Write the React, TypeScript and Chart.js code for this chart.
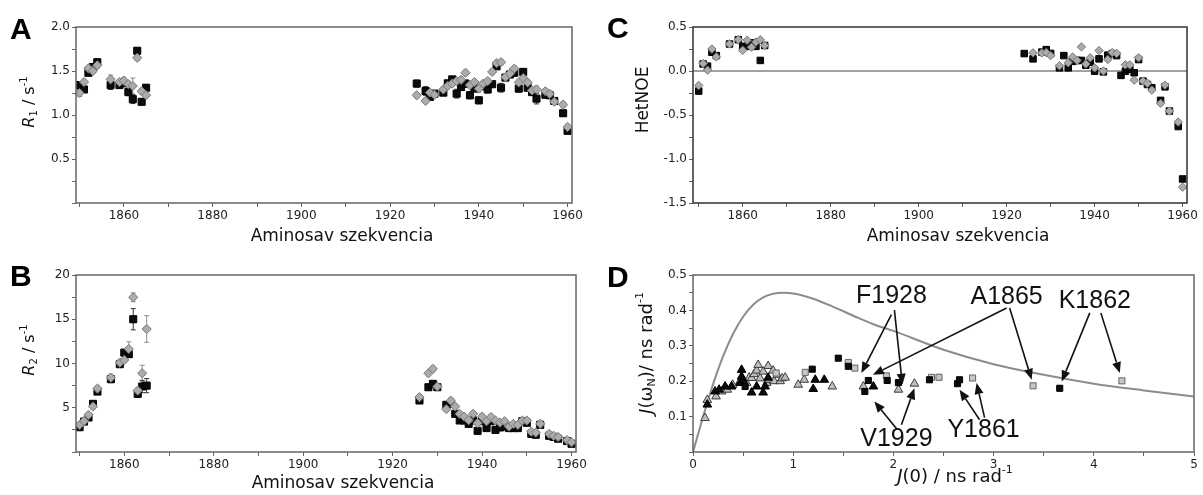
import React, { useEffect, useRef } from 'react';
import { Chart, registerables } from 'chart.js';

Chart.register(...registerables);

const FONT = 'DejaVu Sans';
const LABEL_FONT = 'Liberation Sans';

// ---------- Panels A & B : residues ----------
const RESIDUES = [1850, 1851, 1852, 1853, 1854, 1857, 1859, 1860, 1861, 1862, 1863, 1864, 1865,
  1926, 1928, 1929, 1930,
  1932, 1933, 1934, 1935, 1936, 1937, 1938, 1939, 1940, 1941, 1942, 1943, 1944, 1945, 1946, 1947, 1948, 1949, 1950, 1951, 1952, 1953,
  1955, 1956, 1957, 1959, 1960];

const R1_BLACK = [1.34, 1.29, 1.48, 1.545, 1.60, 1.34, 1.34, 1.36, 1.26, 1.18, 1.73, 1.15, 1.31,
  1.357, 1.273, 1.205, 1.243,
  1.254, 1.36, 1.405, 1.243, 1.318, 1.357, 1.224, 1.30, 1.167, 1.326, 1.29, 1.35, 1.553, 1.31, 1.425, 1.46, 1.48, 1.30, 1.49, 1.31, 1.26, 1.186,
  1.23, 1.224, 1.16, 1.02, 0.82];
const R1_GRAY = [1.25, 1.375, 1.53, 1.50, 1.565, 1.405, 1.375, 1.39, 1.35, 1.33, 1.65, 1.27, 1.225,
  1.224, 1.16, 1.254, 1.23,
  1.29, 1.33, 1.357, 1.386, 1.40, 1.48, 1.34, 1.375, 1.30, 1.357, 1.386, 1.49, 1.59, 1.60, 1.43, 1.47, 1.527, 1.37, 1.42, 1.37, 1.28, 1.29,
  1.27, 1.24, 1.15, 1.118, 0.864];
const R1_BLACK_ERR = [0.04, 0.03, 0.03, 0.03, 0.03, 0.05, 0.03, 0.03, 0.04, 0.05, 0.03, 0.03, 0.03,
  0.04, 0.05, 0.03, 0.03,
  0.03, 0.03, 0.03, 0.05, 0.04, 0.04, 0.04, 0.03, 0.04, 0.03, 0.04, 0.03, 0.03, 0.05, 0.03, 0.03, 0.03, 0.04, 0.03, 0.03, 0.03, 0.06,
  0.03, 0.03, 0.03, 0.03, 0.03];
const R1_GRAY_ERR = [0.04, 0.03, 0.03, 0.03, 0.03, 0.05, 0.03, 0.04, 0.03, 0.09, 0.03, 0.03, 0.03,
  0.03, 0.03, 0.03, 0.03,
  0.03, 0.03, 0.03, 0.03, 0.03, 0.03, 0.03, 0.03, 0.04, 0.03, 0.03, 0.03, 0.03, 0.03, 0.03, 0.03, 0.03, 0.03, 0.03, 0.03, 0.03, 0.04,
  0.03, 0.03, 0.03, 0.03, 0.03];

const R2_BLACK = [2.8, 3.44, 3.9, 5.44, 6.83, 8.23, 9.92, 11.23, 11.05, 15.0, 6.57, 7.4, 7.5,
  5.82, 7.32, 7.7, 7.32,
  5.33, 5.44, 4.31, 3.56, 3.56, 3.18, 3.56, 2.39, 3.48, 2.7, 3.48, 2.5, 2.77, 2.88, 2.7, 2.7, 2.7, 3.48, 3.3, 2.05, 1.95, 3.07,
  1.83, 1.7, 1.5, 1.24, 0.93];
const R2_GRAY = [3.07, 3.5, 4.2, 5.14, 7.17, 8.4, 10.1, 10.4, 11.65, 17.48, 6.94, 8.9, 13.9,
  6.2, 8.9, 9.39, 7.4,
  4.84, 5.8, 5.14, 4.31, 4.0, 3.6, 4.31, 3.26, 4.0, 3.48, 3.95, 3.56, 3.33, 3.48, 2.88, 3.18, 3.07, 3.56, 3.56, 2.3, 2.2, 3.18,
  2.05, 1.83, 1.7, 1.35, 1.1];
const R2_BLACK_ERR = [0.2, 0.2, 0.2, 0.3, 0.3, 0.4, 0.3, 0.3, 0.3, 1.2, 0.3, 0.7, 0.8,
  0.3, 0.2, 0.2, 0.2,
  0.3, 0.3, 0.2, 0.2, 0.2, 0.2, 0.2, 0.2, 0.3, 0.2, 0.2, 0.2, 0.2, 0.2, 0.2, 0.2, 0.2, 0.2, 0.2, 0.2, 0.2, 0.3,
  0.2, 0.2, 0.2, 0.2, 0.2];
const R2_GRAY_ERR = [0.2, 0.2, 0.2, 0.3, 0.3, 0.4, 0.3, 0.3, 0.8, 0.5, 0.3, 0.9, 1.5,
  0.3, 0.3, 0.3, 0.2,
  0.2, 0.3, 0.2, 0.2, 0.2, 0.3, 0.3, 0.2, 0.3, 0.2, 0.3, 0.2, 0.2, 0.2, 0.2, 0.2, 0.2, 0.2, 0.2, 0.2, 0.2, 0.3,
  0.2, 0.2, 0.2, 0.2, 0.2];

// ---------- Panel C : HetNOE ----------
const RESIDUES_C = [1850, 1851, 1852, 1853, 1854, 1857, 1859, 1860, 1861, 1862, 1863, 1864, 1865,
  1924, 1926, 1928, 1929, 1930,
  1932, 1933, 1934, 1935, 1936, 1937, 1938, 1939, 1940, 1941, 1942, 1943, 1944, 1945, 1946, 1947, 1948, 1949, 1950, 1951, 1952, 1953,
  1955, 1956, 1957, 1959, 1960];
const NOE_BLACK = [-0.228, 0.08, 0.055, 0.213, 0.175, 0.307, 0.356, 0.28, 0.28, 0.32, 0.28, 0.12, 0.29,
  0.198, 0.138, 0.215, 0.243, 0.2,
  0.036, 0.175, 0.036, 0.11, 0.12, 0.12, 0.066, 0.1, -0.002, 0.138, -0.01, 0.18, 0.198, 0.175, -0.05, -0.002, 0.02, -0.02, 0.13, -0.115, -0.153, -0.19,
  -0.334, -0.18, -0.455, -0.631, -1.227];
const NOE_GRAY = [-0.164, 0.085, 0.01, 0.25, 0.16, 0.307, 0.356, 0.235, 0.35, 0.27, 0.33, 0.355, 0.29,
  null, 0.206, 0.205, 0.21, 0.175,
  0.06, null, 0.093, 0.16, 0.12, 0.274, 0.08, 0.15, 0.036, 0.232, 0, 0.13, 0.21, 0.2, null, 0.07, 0.07, -0.104, 0.15, -0.115, -0.14, -0.217,
  -0.368, -0.16, -0.455, -0.58, -1.32];

// ---------- Panel D : spectral density ----------
const D_GRAY_TRI_X = [0.12, 0.143, 0.23, 0.286, 0.342, 0.395, 0.47, 0.535, 0.56, 0.585, 0.61, 0.635, 0.65, 0.67, 0.7, 0.735, 0.75, 0.75, 0.8, 0.81, 0.84, 0.87, 0.89, 0.92, 1.05, 1.11, 1.39, 1.70, 2.05, 2.21];
const D_GRAY_TRI_Y = [0.096, 0.147, 0.157, 0.171, 0.176, 0.19, 0.2, 0.195, 0.21, 0.209, 0.22, 0.23, 0.246, 0.208, 0.227, 0.195, 0.243, 0.204, 0.23, 0.2, 0.218, 0.2, 0.208, 0.21, 0.19, 0.204, 0.185, 0.185, 0.176, 0.193];
const D_BLACK_TRI_X = [0.143, 0.22, 0.26, 0.32, 0.385, 0.47, 0.485, 0.485, 0.5, 0.585, 0.635, 0.7, 0.72, 0.75, 1.2, 1.22, 1.31, 1.8];
const D_BLACK_TRI_Y = [0.134, 0.171, 0.176, 0.185, 0.185, 0.195, 0.213, 0.232, 0.204, 0.168, 0.185, 0.168, 0.185, 0.21, 0.178, 0.204, 0.204, 0.185];
const D_BLACK_SQ_X = [0.52, 1.19, 1.45, 1.55, 1.715, 1.75, 1.938, 2.05, 2.36, 2.64, 2.66, 3.66];
const D_BLACK_SQ_Y = [0.185, 0.234, 0.265, 0.242, 0.171, 0.202, 0.202, 0.196, 0.204, 0.193, 0.204, 0.18];
const D_GRAY_SQ_X = [0.83, 1.12, 1.55, 1.615, 1.93, 2.38, 2.455, 2.79, 3.394, 4.28];
const D_GRAY_SQ_Y = [0.223, 0.225, 0.253, 0.237, 0.215, 0.211, 0.211, 0.209, 0.187, 0.201];
const CURVE_X = [0, 0.1, 0.2, 0.3, 0.4, 0.5, 0.6, 0.7, 0.8, 0.9, 1.0, 1.2, 1.4, 1.6, 1.8, 2.0, 2.5, 3.0, 3.5, 4.0, 4.5, 5.0];
const CURVE_Y = [0, 0.099, 0.191, 0.27, 0.334, 0.382, 0.416, 0.437, 0.447, 0.45, 0.448, 0.433, 0.41, 0.385, 0.361, 0.342, 0.289, 0.248, 0.218, 0.193, 0.174, 0.157];

const D_LABELS = ['F1928', 'A1865', 'K1862', 'V1929', 'Y1861'];
const D_LABEL_AT = [[1.98, 0.439], [3.13, 0.438], [4.01, 0.427], [2.03, 0.036], [2.9, 0.063]];
const D_ARROWS = [
  [1.98, 0.388, 1.68, 0.223], [2.01, 0.401, 2.09, 0.19],
  [3.13, 0.407, 1.795, 0.218], [3.16, 0.407, 3.38, 0.204],
  [2.04, 0.063, 1.81, 0.143], [2.08, 0.077, 2.21, 0.18],
  [2.86, 0.091, 2.66, 0.176], [2.91, 0.097, 2.83, 0.195],
  [3.96, 0.393, 3.68, 0.199], [4.07, 0.393, 4.26, 0.223],
];

// ---------- ticks ----------
const RES_TICKS = [1850, 1860, 1870, 1880, 1890, 1900, 1910, 1920, 1930, 1940, 1950, 1960];
const RES_TICK_LABELS = ['', '1860', '', '1880', '', '1900', '', '1920', '', '1940', '', '1960'];
const R1_TICKS = [0, 0.25, 0.5, 0.75, 1.0, 1.25, 1.5, 1.75, 2.0];
const R1_TICK_LABELS = ['', '', '0.5', '', '1.0', '', '1.5', '', '2.0'];
const R2_TICKS = [0, 2.5, 5, 7.5, 10, 12.5, 15, 17.5, 20];
const R2_TICK_LABELS = ['', '', '5', '', '10', '', '15', '', '20'];
const NOE_TICKS = [-1.5, -1.25, -1.0, -0.75, -0.5, -0.25, 0, 0.25, 0.5];
const NOE_TICK_LABELS = ['-1.5', '', '-1.0', '', '-0.5', '', '0.0', '', '0.5'];
const J0_TICKS = [0, 0.5, 1, 1.5, 2, 2.5, 3, 3.5, 4, 4.5, 5];
const J0_TICK_LABELS = ['0', '', '1', '', '2', '', '3', '', '4', '', '5'];
const JN_TICKS = [0, 0.05, 0.1, 0.15, 0.2, 0.25, 0.3, 0.35, 0.4, 0.45, 0.5];
const JN_TICK_LABELS = ['', '', '0.1', '', '0.2', '', '0.3', '', '0.4', '', '0.5'];

// ---------- helpers ----------
function pts(xs: number[], ys: (number | null)[], es?: number[]) {
  const out: any[] = [];
  xs.forEach((x, i) => {
    const y = ys[i];
    if (y !== null && y !== undefined) out.push({ x, y, e: es ? es[i] : undefined });
  });
  return out;
}

function axis(min: number, max: number, ticks: number[], labels: string[], size: number, pos: string) {
  return {
    type: 'linear', position: pos, min, max, bounds: 'data',
    border: { display: false },
    grid: { display: true, drawOnChartArea: false, drawTicks: true, tickLength: 4, color: '#666', lineWidth: 1 },
    ticks: {
      autoSkip: false, maxRotation: 0, minRotation: 0, padding: 2, color: '#222',
      font: { family: FONT, size: 12 },
      callback: (_v: any, i: number) => labels[i] ?? '',
    },
    afterBuildTicks: (s: any) => { s.ticks = ticks.map((value) => ({ value })); },
    afterFit: (s: any) => { if (pos === 'bottom') s.height = size; else s.width = size; },
  };
}

function blackSq(data: any[], r = 5) {
  return { data, pointStyle: 'rect', pointRadius: r, backgroundColor: '#0b0b0b', borderColor: '#000', pointBackgroundColor: '#0b0b0b', pointBorderColor: '#000', borderWidth: 1, showLine: false, errColor: '#333' };
}
function grayDia(data: any[], r = 4.6) {
  return { data, pointStyle: 'rectRot', pointRadius: r, backgroundColor: '#ababab', borderColor: '#7a7a7a', pointBackgroundColor: '#ababab', pointBorderColor: '#7a7a7a', borderWidth: 1, showLine: false, errColor: '#8c8c8c' };
}

function drawRich(ctx: CanvasRenderingContext2D, parts: any[], cx: number, cy: number, rotate: boolean) {
  ctx.save();
  ctx.translate(cx, cy);
  if (rotate) ctx.rotate(-Math.PI / 2);
  let total = 0;
  for (const p of parts) { ctx.font = p.font; total += ctx.measureText(p.t).width; }
  let x = -total / 2;
  ctx.textBaseline = 'middle';
  ctx.textAlign = 'left';
  ctx.fillStyle = '#111';
  for (const p of parts) {
    ctx.font = p.font;
    ctx.fillText(p.t, x, p.dy || 0);
    x += ctx.measureText(p.t).width;
  }
  ctx.restore();
}

function panelLetter(ctx: CanvasRenderingContext2D, letter: string, x: number, y: number) {
  ctx.save();
  ctx.font = `bold 30px ${LABEL_FONT}`;
  ctx.fillStyle = '#000';
  ctx.textBaseline = 'alphabetic';
  ctx.textAlign = 'left';
  ctx.fillText(letter, x, y);
  ctx.restore();
}

function errorBars(chart: any) {
  const ctx = chart.ctx;
  const ys = chart.scales.y;
  chart.data.datasets.forEach((ds: any, di: number) => {
    const meta = chart.getDatasetMeta(di);
    ds.data.forEach((p: any, i: number) => {
      if (p.e === undefined || p.e === null) return;
      const el = meta.data[i];
      if (!el) return;
      const x = el.x;
      const t = ys.getPixelForValue(p.y + p.e);
      const b = ys.getPixelForValue(p.y - p.e);
      ctx.save();
      ctx.strokeStyle = ds.errColor || '#333';
      ctx.lineWidth = 1;
      ctx.beginPath();
      ctx.moveTo(x, t); ctx.lineTo(x, b);
      ctx.moveTo(x - 2.5, t); ctx.lineTo(x + 2.5, t);
      ctx.moveTo(x - 2.5, b); ctx.lineTo(x + 2.5, b);
      ctx.stroke();
      ctx.restore();
    });
  });
}

function frame(chart: any, color = '#666') {
  const { ctx, chartArea: a } = chart;
  ctx.save();
  ctx.strokeStyle = color;
  ctx.lineWidth = 1.5;
  ctx.strokeRect(a.left, a.top, a.right - a.left, a.bottom - a.top);
  ctx.restore();
}

function arrow(ctx: CanvasRenderingContext2D, x1: number, y1: number, x2: number, y2: number) {
  const ang = Math.atan2(y2 - y1, x2 - x1);
  const hl = 11, hw = 4.5;
  const bx = x2 - hl * Math.cos(ang), by = y2 - hl * Math.sin(ang);
  ctx.beginPath();
  ctx.moveTo(x1, y1);
  ctx.lineTo(bx, by);
  ctx.stroke();
  ctx.beginPath();
  ctx.moveTo(x2, y2);
  ctx.lineTo(bx + hw * Math.sin(ang), by - hw * Math.cos(ang));
  ctx.lineTo(bx - hw * Math.sin(ang), by + hw * Math.cos(ang));
  ctx.closePath();
  ctx.fill();
}

function deco(before: ((c: any) => void) | null, after: (c: any) => void, frameColor = '#666') {
  return {
    id: 'deco',
    beforeDatasetsDraw(chart: any) { errorBars(chart); if (before) before(chart); },
    afterDraw(chart: any) { frame(chart, frameColor); after(chart); },
  };
}

const xTitle = (ctx: CanvasRenderingContext2D, cx: number, cy: number) =>
  drawRich(ctx, [{ t: 'Aminosav szekvencia', font: `17px ${FONT}` }], cx, cy, false);

function baseOptions(padRight: number, scales: any) {
  return {
    responsive: false,
    animation: false,
    events: [],
    layout: { padding: { top: 27, right: padRight, left: 0, bottom: 0 } },
    plugins: { legend: { display: false }, tooltip: { enabled: false } },
    scales,
  };
}

function configA() {
  return {
    type: 'scatter',
    data: {
      datasets: [
        grayDia(pts(RESIDUES, R1_GRAY, R1_GRAY_ERR)),
        blackSq(pts(RESIDUES, R1_BLACK, R1_BLACK_ERR)),
      ],
    },
    options: baseOptions(28, {
      x: axis(1849.2, 1961, RES_TICKS, RES_TICK_LABELS, 45, 'bottom'),
      y: axis(0, 2, R1_TICKS, R1_TICK_LABELS, 76, 'left'),
    }),
    plugins: [deco(null, (c: any) => {
      const ctx = c.ctx;
      panelLetter(ctx, 'A', 10, 39);
      drawRich(ctx, [
        { t: 'R', font: `italic 16px ${FONT}` },
        { t: '1', font: `10px ${FONT}`, dy: 4 },
        { t: ' / s', font: `16px ${FONT}` },
        { t: '-1', font: `10px ${FONT}`, dy: -6 },
      ], 30, 102, true);
      xTitle(ctx, 342, 237);
    })],
  };
}

function configB() {
  return {
    type: 'scatter',
    data: {
      datasets: [
        grayDia(pts(RESIDUES, R2_GRAY, R2_GRAY_ERR)),
        blackSq(pts(RESIDUES, R2_BLACK, R2_BLACK_ERR)),
      ],
    },
    options: baseOptions(24, {
      x: axis(1849.2, 1961, RES_TICKS, RES_TICK_LABELS, 43, 'bottom'),
      y: axis(0, 20, R2_TICKS, R2_TICK_LABELS, 76, 'left'),
    }),
    plugins: [deco(null, (c: any) => {
      const ctx = c.ctx;
      panelLetter(ctx, 'B', 10, 38);
      drawRich(ctx, [
        { t: 'R', font: `italic 16px ${FONT}` },
        { t: '2', font: `10px ${FONT}`, dy: 4 },
        { t: ' / s', font: `16px ${FONT}` },
        { t: '-1', font: `10px ${FONT}`, dy: -6 },
      ], 30, 102, true);
      xTitle(ctx, 343, 236);
    })],
  };
}

function configC() {
  return {
    type: 'scatter',
    data: {
      datasets: [
        grayDia(pts(RESIDUES_C, NOE_GRAY), 4.2),
        blackSq(pts(RESIDUES_C, NOE_BLACK), 4.6),
      ],
    },
    options: baseOptions(16, {
      x: axis(1848.7, 1961, RES_TICKS, RES_TICK_LABELS, 45, 'bottom'),
      y: axis(-1.5, 0.5, NOE_TICKS, NOE_TICK_LABELS, 93, 'left'),
    }),
    plugins: [deco((c: any) => {
      const ctx = c.ctx; const a = c.chartArea;
      const y0 = c.scales.y.getPixelForValue(0);
      ctx.save();
      ctx.strokeStyle = '#444';
      ctx.lineWidth = 1;
      ctx.beginPath(); ctx.moveTo(a.left, y0); ctx.lineTo(a.right, y0); ctx.stroke();
      ctx.restore();
    }, (c: any) => {
      const ctx = c.ctx;
      panelLetter(ctx, 'C', 7, 38);
      drawRich(ctx, [{ t: 'HetNOE', font: `17px ${FONT}` }], 43.5, 100, true);
      xTitle(ctx, 358, 237);
    }, '#333')],
  };
}

function configD() {
  const tri = (data: any[], fill: string, border: string) => ({ data, pointStyle: 'triangle', pointRadius: 5, backgroundColor: fill, borderColor: border, pointBackgroundColor: fill, pointBorderColor: border, borderWidth: 1, showLine: false });
  const sq = (data: any[], fill: string, border: string) => ({ data, pointStyle: 'rect', pointRadius: 4.3, backgroundColor: fill, borderColor: border, pointBackgroundColor: fill, pointBorderColor: border, borderWidth: 1, showLine: false });
  return {
    type: 'scatter',
    data: {
      datasets: [
        sq(pts(D_BLACK_SQ_X, D_BLACK_SQ_Y), '#0b0b0b', '#000'),
        sq(pts(D_GRAY_SQ_X, D_GRAY_SQ_Y), '#c6c6c6', '#666'),
        tri(pts(D_BLACK_TRI_X, D_BLACK_TRI_Y), '#0b0b0b', '#000'),
        tri(pts(D_GRAY_TRI_X, D_GRAY_TRI_Y), '#bdbdbd', '#3c3c3c'),
        {
          data: pts(CURVE_X, CURVE_Y), showLine: true, cubicInterpolationMode: 'monotone',
          borderColor: '#8c8c8c', borderWidth: 2, pointRadius: 0, backgroundColor: 'transparent',
        },
      ],
    },
    options: baseOptions(9, {
      x: axis(0, 5, J0_TICKS, J0_TICK_LABELS, 43, 'bottom'),
      y: axis(0, 0.5, JN_TICKS, JN_TICK_LABELS, 93, 'left'),
    }),
    plugins: [deco(null, (c: any) => {
      const ctx = c.ctx;
      const xs = c.scales.x, ys = c.scales.y;
      ctx.save();
      ctx.strokeStyle = '#111';
      ctx.fillStyle = '#111';
      ctx.lineWidth = 1.6;
      D_ARROWS.forEach(([x1, y1, x2, y2]) => {
        arrow(ctx, xs.getPixelForValue(x1), ys.getPixelForValue(y1), xs.getPixelForValue(x2), ys.getPixelForValue(y2));
      });
      ctx.font = `25px ${LABEL_FONT}`;
      ctx.textAlign = 'center';
      ctx.textBaseline = 'middle';
      D_LABELS.forEach((t, i) => {
        ctx.fillText(t, xs.getPixelForValue(D_LABEL_AT[i][0]), ys.getPixelForValue(D_LABEL_AT[i][1]));
      });
      ctx.restore();
      panelLetter(ctx, 'D', 7, 39);
      drawRich(ctx, [
        { t: 'J', font: `italic 18px ${FONT}` },
        { t: '(ω', font: `18px ${FONT}` },
        { t: 'N', font: `11px ${FONT}`, dy: 5 },
        { t: ')/ ns rad', font: `18px ${FONT}` },
        { t: '-1', font: `11px ${FONT}`, dy: -7 },
      ], 47, 105, true);
      drawRich(ctx, [
        { t: 'J', font: `italic 18px ${FONT}` },
        { t: '(0) / ns rad', font: `18px ${FONT}` },
        { t: '-1', font: `11px ${FONT}`, dy: -7 },
      ], 355, 229, false);
    })],
  };
}

export default function App() {
  const refA = useRef<HTMLCanvasElement>(null);
  const refB = useRef<HTMLCanvasElement>(null);
  const refC = useRef<HTMLCanvasElement>(null);
  const refD = useRef<HTMLCanvasElement>(null);

  useEffect(() => {
    Chart.defaults.font.family = FONT;
    const charts = [
      new Chart(refA.current as any, configA() as any),
      new Chart(refB.current as any, configB() as any),
      new Chart(refC.current as any, configC() as any),
      new Chart(refD.current as any, configD() as any),
    ];
    return () => charts.forEach((c) => c.destroy());
  }, []);

  const cs = (left: number, top: number, w: number, h: number): React.CSSProperties => ({ position: 'absolute', left, top, width: w, height: h });

  return (
    <div style={{ position: 'absolute', left: 0, top: 0, width: 1203, height: 495, background: '#fff', overflow: 'hidden' }}>
      <canvas ref={refA} width={600} height={248} style={cs(0, 0, 600, 248)} />
      <canvas ref={refB} width={600} height={247} style={cs(0, 248, 600, 247)} />
      <canvas ref={refC} width={603} height={248} style={cs(600, 0, 603, 248)} />
      <canvas ref={refD} width={603} height={247} style={cs(600, 248, 603, 247)} />
    </div>
  );
}
